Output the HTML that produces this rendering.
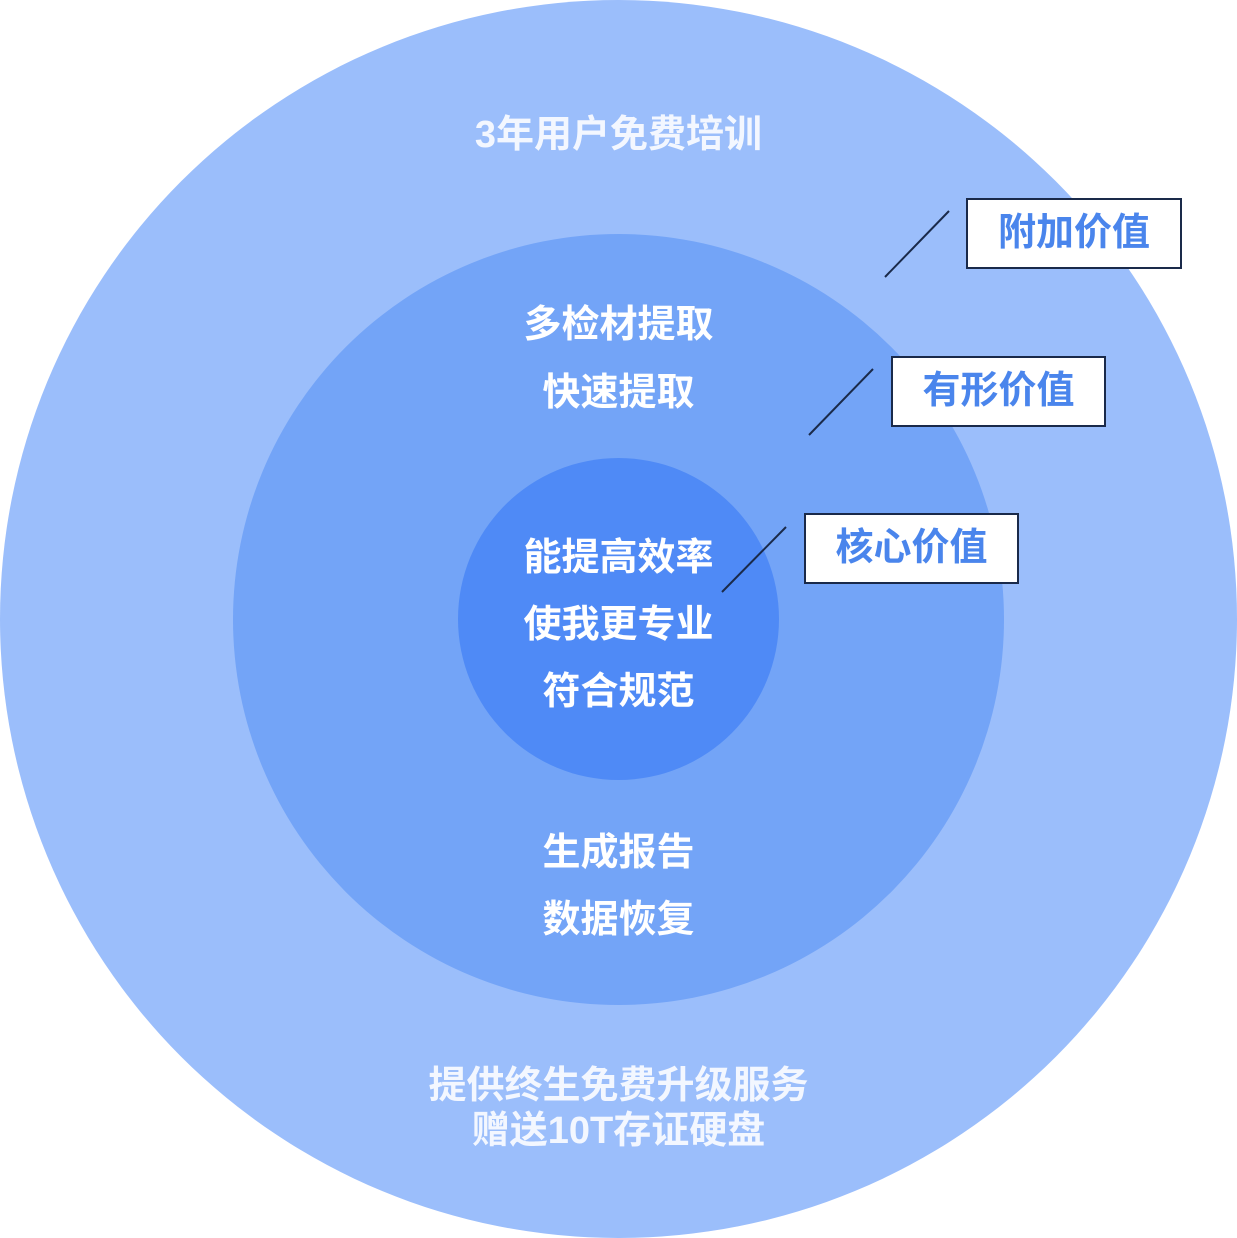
<!DOCTYPE html>
<html><head><meta charset="utf-8"><style>
html,body{margin:0;padding:0;background:#fff}
body{width:1237px;height:1238px;position:relative;overflow:hidden;font-family:"Liberation Sans","Noto Sans CJK SC",sans-serif;font-weight:bold}
.c{position:absolute;border-radius:50%}
.t{position:absolute;left:0;width:1237px;text-align:center;color:#fff;font-size:38px;line-height:40px;font-weight:bold}
.b{position:absolute;background:#fff;border:2px solid #1a2a4a;box-sizing:border-box;color:#4a85ec;font-size:38px;text-align:center;line-height:66px;font-weight:bold}
</style></head><body>
<div class="c" style="left:0;top:0;width:1237px;height:1238px;background:#9bbefb"></div>
<div class="c" style="left:233px;top:234px;width:771px;height:771px;background:#73a4f7"></div>
<div class="c" style="left:458px;top:458px;width:321px;height:322px;background:#4f8af6"></div>
<div class="t" style="top:115px;color:#f3f7ff">3年用户免费培训</div>
<div class="t" style="top:305px">多检材提取</div>
<div class="t" style="top:373px">快速提取</div>
<div class="t" style="top:538px">能提高效率</div>
<div class="t" style="top:605px">使我更专业</div>
<div class="t" style="top:672px">符合规范</div>
<div class="t" style="top:833px">生成报告</div>
<div class="t" style="top:900px">数据恢复</div>
<div class="t" style="top:1066px;color:#f3f7ff">提供终生免费升级服务</div>
<div class="t" style="top:1111px;color:#f3f7ff">赠送10T存证硬盘</div>
<svg style="position:absolute;left:0;top:0" width="1237" height="1238">
<g stroke="#1a2a4a" stroke-width="2">
<line x1="885" y1="277" x2="949" y2="211"/>
<line x1="809" y1="435" x2="873" y2="369"/>
<line x1="722" y1="592" x2="786" y2="527"/>
</g></svg>
<div class="b" style="left:966px;top:198px;width:216px;height:71px">附加价值</div>
<div class="b" style="left:891px;top:356px;width:215px;height:71px">有形价值</div>
<div class="b" style="left:804px;top:513px;width:215px;height:71px">核心价值</div>
</body></html>
